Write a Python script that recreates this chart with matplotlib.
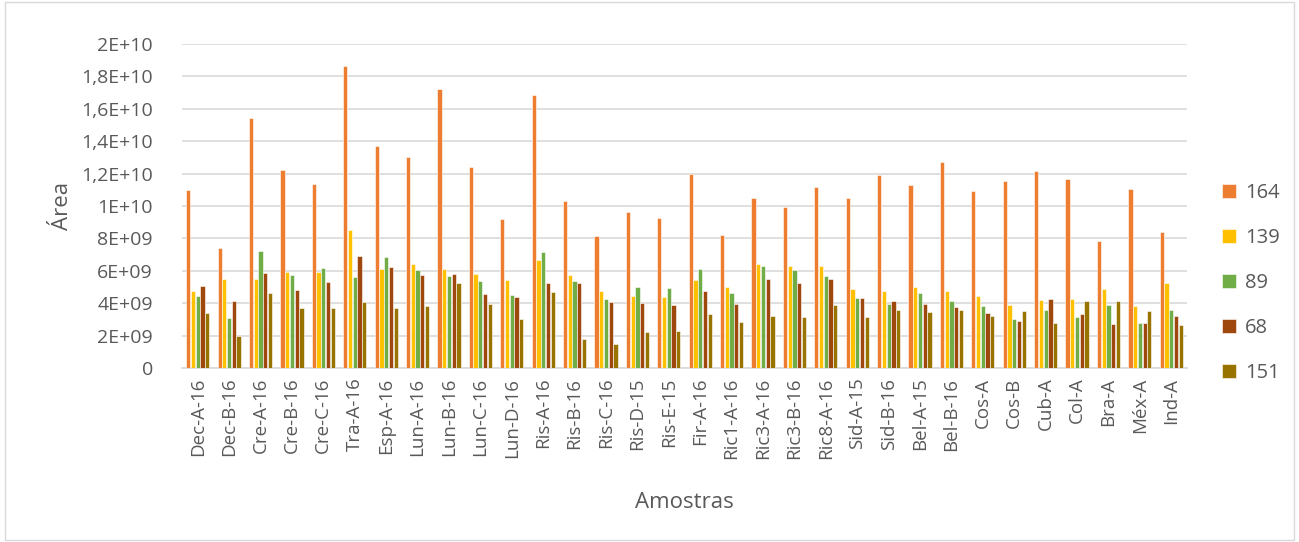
import numpy as np
import matplotlib
matplotlib.use("Agg")
import matplotlib.pyplot as plt
from matplotlib.patches import Rectangle

# samples on the x axis
amostras = ["Dec-A-16", "Dec-B-16", "Cre-A-16", "Cre-B-16", "Cre-C-16", "Tra-A-16",
            "Esp-A-16", "Lun-A-16", "Lun-B-16", "Lun-C-16", "Lun-D-16", "Ris-A-16",
            "Ris-B-16", "Ris-C-16", "Ris-D-15", "Ris-E-15", "Fir-A-16", "Ric1-A-16",
            "Ric3-A-16", "Ric3-B-16", "Ric8-A-16", "Sid-A-15", "Sid-B-16", "Bel-A-15",
            "Bel-B-16", "Cos-A", "Cos-B", "Cub-A", "Col-A", "Bra-A", "Méx-A", "Ind-A"]

# peak areas, in units of 1E9
s164 = [10.97, 7.39, 15.44, 12.20, 11.36, 18.67, 13.68, 13.00, 17.25, 12.42, 9.20,
        16.86, 10.29, 8.15, 9.61, 9.26, 11.97, 8.23, 10.51, 9.92, 11.15, 10.51,
        11.89, 11.27, 12.73, 10.90, 11.52, 12.18, 11.66, 7.86, 11.03, 8.40]
s139 = [4.76, 5.50, 5.48, 5.93, 5.93, 8.52, 6.10, 6.41, 6.12, 5.83, 5.42,
        6.65, 5.77, 4.78, 4.44, 4.39, 5.42, 4.97, 6.45, 6.30, 6.28, 4.89,
        4.74, 4.97, 4.74, 4.44, 3.88, 4.19, 4.25, 4.85, 3.84, 5.22]
s89 = [4.44, 3.08, 7.21, 5.77, 6.16, 5.59, 6.84, 6.08, 5.65, 5.36, 4.48,
       7.19, 5.36, 4.23, 4.97, 4.93, 6.14, 4.66, 6.28, 6.08, 5.69, 4.33,
       3.94, 4.62, 4.11, 3.80, 3.02, 3.57, 3.14, 3.88, 2.75, 3.55]
s68 = [5.05, 4.13, 5.89, 4.80, 5.32, 6.92, 6.24, 5.71, 5.79, 4.54, 4.39,
       5.22, 5.22, 4.05, 4.02, 3.88, 4.78, 3.94, 5.50, 5.26, 5.48, 4.35,
       4.13, 3.92, 3.76, 3.37, 2.90, 4.25, 3.33, 2.73, 2.75, 3.24]
s151 = [3.39, 1.99, 4.62, 3.68, 3.68, 4.09, 3.72, 3.82, 5.24, 3.98, 3.00,
        4.68, 1.79, 1.46, 2.20, 2.28, 3.31, 2.81, 3.20, 3.14, 3.86, 3.14,
        3.57, 3.43, 3.59, 3.20, 3.51, 2.75, 4.11, 4.11, 3.51, 2.65]

series_names = ["164", "139", "89", "68", "151"]
colors = ["#ED7D31", "#FFC000", "#70AD47", "#9E480E", "#997300"]

ytick_vals = [0, 2e9, 4e9, 6e9, 8e9, 1e10, 1.2e10, 1.4e10, 1.6e10, 1.8e10, 2e10]
ytick_labels = ["0", "2E+09", "4E+09", "6E+09", "8E+09", "1E+10",
                "1,2E+10", "1,4E+10", "1,6E+10", "1,8E+10", "2E+10"]

plt.rcParams["font.family"] = ["Open Sans", "DejaVu Sans"]
txt = "#595959"

fig = plt.figure(figsize=(12.99, 5.42), dpi=100)
ax = fig.add_axes([182 / 1299, 1 - 368 / 542, (1187 - 182) / 1299, (368 - 44) / 542])

x = np.arange(len(amostras))
step = 0.151
width = 0.135
data = [s164, s139, s89, s68, s151]
for i, (vals, name, c) in enumerate(zip(data, series_names, colors)):
    ax.bar(x + (i - 2) * step, np.array(vals) * 1e9, width=width, color=c,
           edgecolor="white", linewidth=0.4, label=name, zorder=3)

ax.set_xlim(-0.5, len(amostras) - 0.5)
ax.set_ylim(0, 2e10)
ax.set_yticks(ytick_vals)
ax.set_yticklabels(ytick_labels)
ax.set_xticks(x)
ax.set_xticklabels(amostras, rotation=90)
ax.tick_params(axis="both", length=0, colors=txt)
ax.tick_params(axis="y", pad=21, labelsize=14)
ax.tick_params(axis="x", pad=7, labelsize=13.5)
ax.grid(axis="y", color="#D9D9D9", linewidth=1.2, zorder=0)
for s in ["top", "right", "left"]:
    ax.spines[s].set_visible(False)
ax.spines["bottom"].set_color("#D9D9D9")
ax.spines["bottom"].set_linewidth(1.2)

fig.text(62 / 1299, 1 - 206 / 542, "Área", rotation=90, fontsize=16, color=txt,
         ha="center", va="center")
fig.text(684 / 1299, 1 - 503 / 542, "Amostras", fontsize=16, color=txt,
         ha="center", va="center")

fig.legend(*ax.get_legend_handles_labels(), loc="center left",
           bbox_to_anchor=(1222 / 1299, 1 - 283 / 542), frameon=False,
           fontsize=14.5, labelspacing=1.25, handlelength=0.7,
           handleheight=0.7, handletextpad=0.45, labelcolor=txt,
           borderaxespad=0, borderpad=0)

fig.add_artist(Rectangle((0.004, 0.004), 0.992, 0.992, transform=fig.transFigure,
                         fill=False, edgecolor="#D9D9D9", linewidth=1))

fig.savefig("out.png", dpi=100)
